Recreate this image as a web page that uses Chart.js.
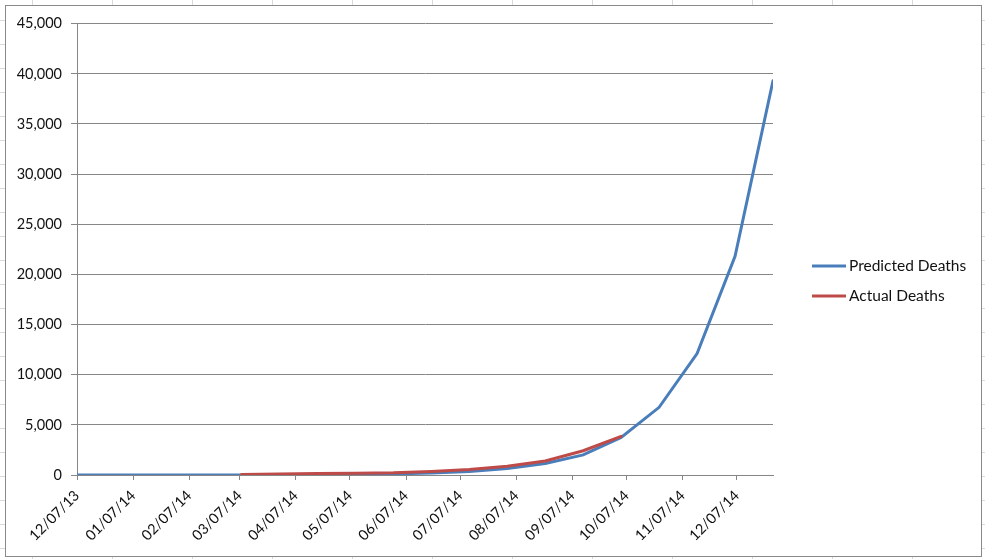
<!DOCTYPE html>
<html>
<head>
<meta charset="utf-8">
<script src="https://cdn.jsdelivr.net/npm/chart.js@4.4.1/dist/chart.umd.min.js"></script>
<style>
  html, body { margin: 0; padding: 0; }
  body {
    width: 985px; height: 559px; overflow: hidden; position: relative; background-color: #fff;
    background-image: linear-gradient(to right, #dadada 1px, transparent 1px), linear-gradient(to bottom, #dadada 1px, transparent 1px);
    background-size: 80px 24px; background-position: 32px 20px;
  }
  #box { position: absolute; left: 5px; top: 5px; width: 975px; height: 550px; border: 1px solid #8a8a8a; background: #fff; }
</style>
</head>
<body>
<div id="box"><canvas id="deathsChart"></canvas></div>
<script>
// x values are days counted from 12/07/13
var tickDays = [0, 31, 62, 90, 121, 151, 182, 212, 243, 274, 304, 335, 365];
var tickLabels = ['12/07/13', '01/07/14', '02/07/14', '03/07/14', '04/07/14', '05/07/14', '06/07/14',
                  '07/07/14', '08/07/14', '09/07/14', '10/07/14', '11/07/14', '12/07/14'];

var predictedDays = [0, 7, 28, 49, 70, 91, 112, 133, 154, 175, 196, 217, 238, 259, 280, 301, 322, 343, 364, 385];
var predictedDeaths = [0, 1, 2, 3, 6, 10, 20, 35, 60, 110, 200, 355, 640, 1150, 2000, 3750, 6750, 12100, 21800, 39300];

var actualDays = [91, 112, 133, 154, 175, 196, 217, 238, 259, 280, 301];
var actualDeaths = [60, 110, 140, 170, 215, 350, 540, 880, 1400, 2420, 3860];

function toPoints(days, values) {
    return days.map(function (d, i) { return { x: d, y: values[i] }; });
}

var textColor = '#111';
var axisColor = '#868686';
var fontFamily = 'Lato, "Liberation Sans", sans-serif';

// legend drawn to the right of the plot, centred on the chart height (Excel style)
var sideLegend = {
    id: 'sideLegend',
    afterDraw: function (chart) {
        var ctx = chart.ctx;
        var area = chart.chartArea;
        var sets = chart.data.datasets;
        var x = area.right + 39;
        var y = chart.height / 2 - 15 * (sets.length - 1);
        ctx.save();
        ctx.font = '15.5px ' + fontFamily;
        ctx.textBaseline = 'middle';
        ctx.textAlign = 'left';
        sets.forEach(function (ds) {
            ctx.strokeStyle = ds.borderColor;
            ctx.lineWidth = 3;
            ctx.beginPath();
            ctx.moveTo(x, y);
            ctx.lineTo(x + 34, y);
            ctx.stroke();
            ctx.fillStyle = textColor;
            ctx.fillText(ds.label, x + 37, y);
            y += 30;
        });
        ctx.restore();
    }
};

var ctx = document.getElementById('deathsChart').getContext('2d');
var chart = new Chart(ctx, {
    type: 'line',
    data: {
        datasets: [{
            label: 'Predicted Deaths',
            data: toPoints(predictedDays, predictedDeaths),
            borderColor: '#4A7EBB',
            backgroundColor: '#4A7EBB',
            order: 2
        }, {
            label: 'Actual Deaths',
            data: toPoints(actualDays, actualDeaths),
            borderColor: '#BE4B48',
            backgroundColor: '#BE4B48',
            order: 1
        }]
    },
    options: {
        responsive: true,
        maintainAspectRatio: false,
        animation: false,
        layout: { padding: { top: 17, right: 208, left: 0, bottom: 0 } },
        elements: {
            point: { radius: 0 },
            line: { borderWidth: 3, tension: 0, borderCapStyle: 'round' }
        },
        plugins: {
            legend: { display: false },
            tooltip: { enabled: false }
        },
        scales: {
            x: {
                type: 'linear',
                min: 0,
                max: 385,
                afterBuildTicks: function (scale) {
                    scale.ticks = tickDays.map(function (d) { return { value: d }; });
                },
                afterFit: function (scale) { scale.height = 81; },
                grid: { drawOnChartArea: false, tickLength: 5, color: axisColor },
                border: { color: axisColor },
                ticks: {
                    autoSkip: false,
                    minRotation: 45,
                    maxRotation: 45,
                    padding: 7,
                    color: textColor,
                    font: { family: fontFamily, size: 14.5 },
                    callback: function (value, index) { return tickLabels[index]; }
                }
            },
            y: {
                min: 0,
                max: 45000,
                afterFit: function (scale) { scale.width = 71; },
                grid: { tickLength: 6, color: axisColor },
                border: { color: axisColor },
                ticks: {
                    stepSize: 5000,
                    padding: 9,
                    color: textColor,
                    font: { family: fontFamily, size: 14.5 },
                    callback: function (value) { return value.toLocaleString('en-US'); }
                }
            }
        }
    },
    plugins: [sideLegend]
});
</script>
</body>
</html>
